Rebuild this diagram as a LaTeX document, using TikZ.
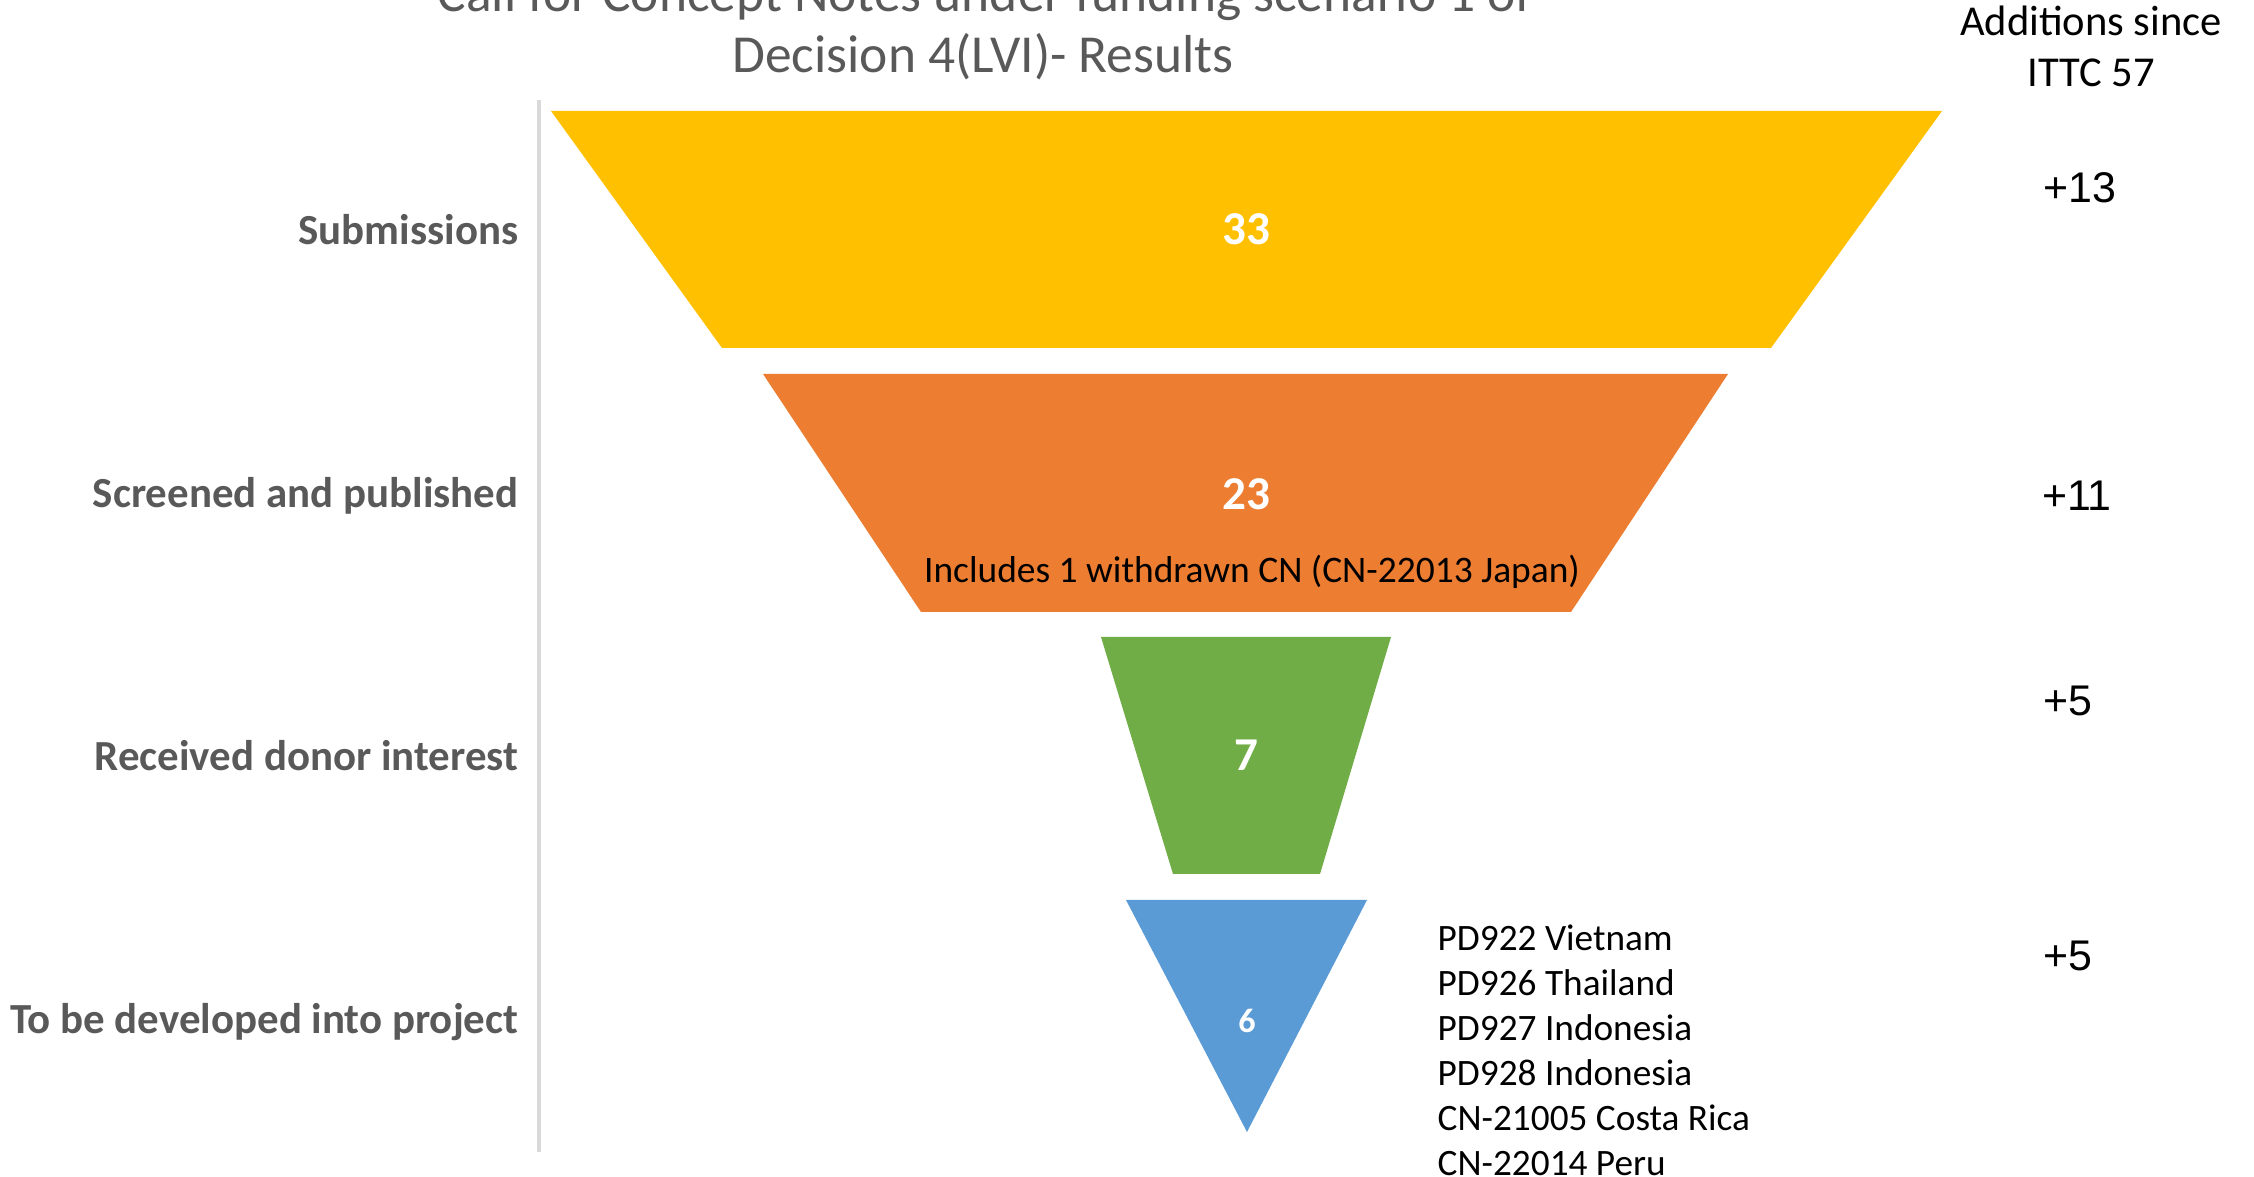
\documentclass[tikz,border=0pt]{standalone}
\usepackage{fontspec}
\setmainfont{Carlito}
\newfontfamily\arialfont{Liberation Sans}

\definecolor{funnelyellow}{HTML}{FFC000}
\definecolor{funnelorange}{HTML}{ED7D31}
\definecolor{funnelgreen}{HTML}{70AD47}
\definecolor{funnelblue}{HTML}{5B9BD5}
\definecolor{labelgray}{HTML}{595959}
\definecolor{axisgray}{HTML}{D9D9D9}

\tikzset{
    stagelabel/.style={anchor=base east, inner sep=0pt, text=labelgray,
        font=\bfseries\fontsize{12.2}{14}\selectfont},
    countlabel/.style={anchor=base, inner sep=0pt, text=white,
        font=\bfseries\fontsize{13.4}{16}\selectfont},
    addlabel/.style={anchor=base, inner sep=0pt,
        font=\arialfont\fontsize{12.2}{14}\selectfont},
    listline/.style={anchor=base west, inner sep=0pt,
        font=\fontsize{10.6}{12}\selectfont},
    titleline/.style={anchor=base, inner sep=0pt, text=labelgray,
        font=\fontsize{15.2}{18}\selectfont}
}

\begin{document}
\begin{tikzpicture}[x=0.01cm, y=-0.01cm]

    \useasboundingbox (0, 0) rectangle (2254, 1177);

    % titre
    \node[titleline] (title1) at (985, 12) {Call for Concept Notes under funding scenario 1 of};
    \node[titleline] (title2) at (983, 73) {Decision 4(LVI)- Results};

    % axe
    \coordinate (axistop) at (539, 100);
    \coordinate (axisbottom) at (539, 1152);
    \draw[color=axisgray, line width=1pt] (axistop) -- (axisbottom);

    % entonnoir
    \fill[funnelyellow] (551, 111) -- (1942, 111) -- (1771, 348) -- (722, 348) -- cycle;
    \fill[funnelorange] (763, 374) -- (1728, 374) -- (1571, 612) -- (921, 612) -- cycle;
    \fill[funnelgreen] (1101, 637) -- (1391, 637) -- (1320, 874) -- (1173, 874) -- cycle;
    \fill[funnelblue] (1126, 900) -- (1367, 900) -- (1247, 1132) -- cycle;

    % etapes
    \node[stagelabel] (submissions) at (519, 245) {Submissions};
    \node[stagelabel] (screened) at (519, 508) {Screened and published};
    \node[stagelabel] (donor) at (519, 771) {Received donor interest};
    \node[stagelabel] (project) at (519, 1034) {To be developed into project};

    % valeurs
    \node[countlabel] (n33) at (1246, 245) {33};
    \node[countlabel] (n23) at (1246, 510) {23};
    \node[countlabel] (n7) at (1246, 771) {7};
    \node[countlabel, font=\bfseries\fontsize{9.7}{12}\selectfont] (n6) at (1247, 1033) {6};

    \node[anchor=base, inner sep=0pt, font=\fontsize{10.65}{12}\selectfont] (withdrawn) at (1252, 583) {Includes 1 withdrawn CN (CN-22013 Japan)};

    % liste des projets
    \node[listline] (pd922) at (1437, 951) {PD922 Vietnam};
    \node[listline] (pd926) at (1437, 996) {PD926 Thailand};
    \node[listline] (pd927) at (1437, 1041) {PD927 Indonesia};
    \node[listline] (pd928) at (1437, 1086) {PD928 Indonesia};
    \node[listline] (cn21005) at (1437, 1131) {CN-21005 Costa Rica};
    \node[listline] (cn22014) at (1437, 1176) {CN-22014 Peru};

    % ajouts
    \node[anchor=base, inner sep=0pt, font=\fontsize{12.1}{14}\selectfont] (additions1) at (2091, 36) {Additions since};
    \node[anchor=base, inner sep=0pt, font=\fontsize{12.1}{14}\selectfont] (additions2) at (2091, 87) {ITTC 57};

    \node[addlabel] (plus13) at (2080, 203) {+13};
    \node[addlabel] (plus11) at (2077, 511) {+11};
    \node[addlabel] (plus5a) at (2068, 716) {+5};
    \node[addlabel] (plus5b) at (2068, 971) {+5};

\end{tikzpicture}
\end{document}
